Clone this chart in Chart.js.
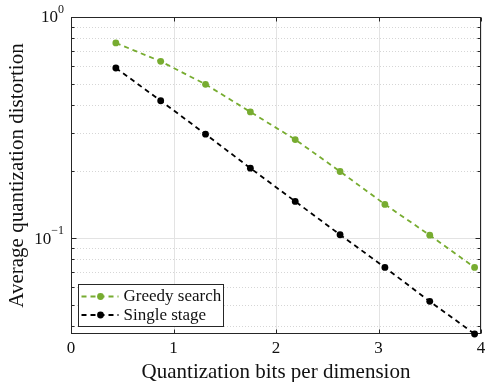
<!DOCTYPE html>
<html>
<head>
<meta charset="utf-8">
<script src="https://cdn.jsdelivr.net/npm/chart.js@4/dist/chart.umd.min.js"></script>
<style>
  html, body { margin: 0; padding: 0; background: #fff; }
  #wrap { width: 486px; height: 382px; }
</style>
</head>
<body>
<div id="wrap"><canvas id="c" width="486" height="382"></canvas></div>
<script>
// Bits per dimension at which each quantizer was evaluated
const bits = [0.4375, 0.875, 1.3125, 1.75, 2.1875, 2.625, 3.0625, 3.5, 3.9375];
// Average quantization distortion per method
const greedySearch = [0.763, 0.630, 0.496, 0.372, 0.279, 0.200, 0.142, 0.103, 0.0736];
const singleStage  = [0.588, 0.418, 0.295, 0.207, 0.1465, 0.1035, 0.0736, 0.0517, 0.0368];
// Axis ticks
const xTicks = [0, 1, 2, 3, 4];
const yDecades = [0.1, 1];
const yMinor = [0.04, 0.05, 0.06, 0.07, 0.08, 0.09, 0.2, 0.3, 0.4, 0.5, 0.6, 0.7, 0.8, 0.9];
const seriesNames = ['Greedy search', 'Single stage'];

const GREEN = '#77AC30';
const INK = '#262626';
const SERIF = '"Liberation Serif", "Times New Roman", serif';

const toPoints = ys => bits.map((b, i) => ({ x: b, y: ys[i] }));

function drawMarker(ctx, x, y, r, color) {
  ctx.beginPath();
  ctx.arc(x, y, r, 0, Math.PI * 2);
  ctx.fillStyle = color;
  ctx.fill();
}

const axesPlugin = {
  id: 'matlabAxes',
  beforeDatasetsDraw(chart) {
    const { ctx, chartArea: a, scales: { x, y } } = chart;
    ctx.save();
    // minor (dotted) grid
    ctx.strokeStyle = '#d6d6d6';
    ctx.lineWidth = 1;
    ctx.setLineDash([1, 2]);
    yMinor.forEach(v => {
      const py = Math.round(y.getPixelForValue(v)) + 0.5;
      ctx.beginPath(); ctx.moveTo(a.left, py); ctx.lineTo(a.right, py); ctx.stroke();
    });
    // major grid
    ctx.setLineDash([]);
    ctx.strokeStyle = '#e3e3e3';
    xTicks.forEach(v => {
      const px = Math.round(x.getPixelForValue(v)) + 0.5;
      ctx.beginPath(); ctx.moveTo(px, a.top); ctx.lineTo(px, a.bottom); ctx.stroke();
    });
    yDecades.forEach(v => {
      const py = Math.round(y.getPixelForValue(v)) + 0.5;
      ctx.beginPath(); ctx.moveTo(a.left, py); ctx.lineTo(a.right, py); ctx.stroke();
    });
    // axes box
    ctx.strokeStyle = INK;
    ctx.lineWidth = 1;
    const L = Math.round(a.left) + 0.5, R = Math.round(a.right) - 0.5;
    const T = Math.round(a.top) + 0.5, B = Math.round(a.bottom) - 0.5;
    ctx.strokeRect(L, T, R - L, B - T);
    // inward ticks
    const tl = 4;
    ctx.beginPath();
    xTicks.forEach(v => {
      const px = Math.round(x.getPixelForValue(v)) + 0.5;
      ctx.moveTo(px, B); ctx.lineTo(px, B - tl);
      ctx.moveTo(px, T); ctx.lineTo(px, T + tl);
    });
    yDecades.concat(yMinor).forEach(v => {
      const py = Math.round(y.getPixelForValue(v)) + 0.5;
      const len = yDecades.includes(v) ? tl + 1 : tl - 1;
      ctx.moveTo(L, py); ctx.lineTo(L + len, py);
      ctx.moveTo(R, py); ctx.lineTo(R - len, py);
    });
    ctx.stroke();

    // tick labels
    ctx.fillStyle = '#111';
    ctx.font = '17px ' + SERIF;
    ctx.textAlign = 'center';
    ctx.textBaseline = 'middle';
    xTicks.forEach(v => ctx.fillText(String(v), x.getPixelForValue(v), a.bottom + 15));

    yDecades.forEach(v => {
      const py = y.getPixelForValue(v);
      const exp = Math.round(Math.log10(v));
      const sup = exp < 0 ? '\u2212' + Math.abs(exp) : String(exp);
      ctx.font = '12px ' + SERIF;
      const wSup = ctx.measureText(sup).width;
      ctx.font = '17px ' + SERIF;
      const wBase = ctx.measureText('10').width;
      const right = a.left - 7;
      ctx.textAlign = 'left';
      ctx.textBaseline = 'middle';
      ctx.fillText('10', right - wSup - wBase, py + 1);
      ctx.font = '12px ' + SERIF;
      ctx.fillText(sup, right - wSup, py - 7);
    });

    // axis titles
    ctx.font = '21px ' + SERIF;
    ctx.textAlign = 'center';
    ctx.textBaseline = 'middle';
    ctx.fillText('Quantization bits per dimension', (a.left + a.right) / 2, a.bottom + 38);
    ctx.save();
    ctx.translate(17, (a.top + a.bottom) / 2);
    ctx.rotate(-Math.PI / 2);
    ctx.fillText('Average quantization distortion', 0, 0);
    ctx.restore();
    ctx.restore();
  },
  afterDatasetsDraw(chart) {
    const { ctx, chartArea: a } = chart;
    ctx.save();
    const bx = Math.round(a.left) + 7.5, bw = 145;
    const bh = 42, by = Math.round(a.bottom) - 7.5 - bh;
    ctx.fillStyle = '#fff';
    ctx.fillRect(bx, by, bw, bh);
    ctx.strokeStyle = INK;
    ctx.lineWidth = 1;
    ctx.strokeRect(bx, by, bw, bh);
    chart.data.datasets.forEach((ds, i) => {
      const ry = by + 12 + i * 18.5;
      ctx.strokeStyle = ds.borderColor;
      ctx.lineWidth = 1.8;
      ctx.setLineDash(ds.borderDash);
      ctx.beginPath();
      ctx.moveTo(bx + 3, ry); ctx.lineTo(bx + 40, ry);
      ctx.stroke();
      ctx.setLineDash([]);
      drawMarker(ctx, bx + 22, ry, 3.4, ds.pointBackgroundColor);
      ctx.fillStyle = '#111';
      ctx.font = '17px ' + SERIF;
      ctx.textAlign = 'left';
      ctx.textBaseline = 'middle';
      ctx.fillText(ds.label, bx + 45, ry + 0.5);
    });
    ctx.restore();
  }
};

new Chart(document.getElementById('c'), {
  type: 'line',
  data: {
    datasets: [
      {
        label: seriesNames[0],
        data: toPoints(greedySearch),
        borderColor: GREEN,
        pointBackgroundColor: GREEN,
        pointBorderColor: GREEN,
        borderWidth: 1.8,
        borderDash: [5, 4],
        pointRadius: 3.4,
        pointBorderWidth: 0,
        clip: false
      },
      {
        label: seriesNames[1],
        data: toPoints(singleStage),
        borderColor: '#000',
        pointBackgroundColor: '#000',
        pointBorderColor: '#000',
        borderWidth: 1.8,
        borderDash: [5, 4],
        pointRadius: 3.4,
        pointBorderWidth: 0,
        clip: false
      }
    ]
  },
  options: {
    responsive: false,
    animation: false,
    layout: { padding: { left: 71, right: 5, top: 17, bottom: 48 } },
    scales: {
      x: { type: 'linear', min: 0, max: 4, display: false },
      y: { type: 'logarithmic', min: 0.0368, max: 1, display: false }
    },
    plugins: {
      legend: { display: false },
      tooltip: { enabled: false }
    },
    elements: { line: { tension: 0 } }
  },
  plugins: [axesPlugin]
});
</script>
</body>
</html>
